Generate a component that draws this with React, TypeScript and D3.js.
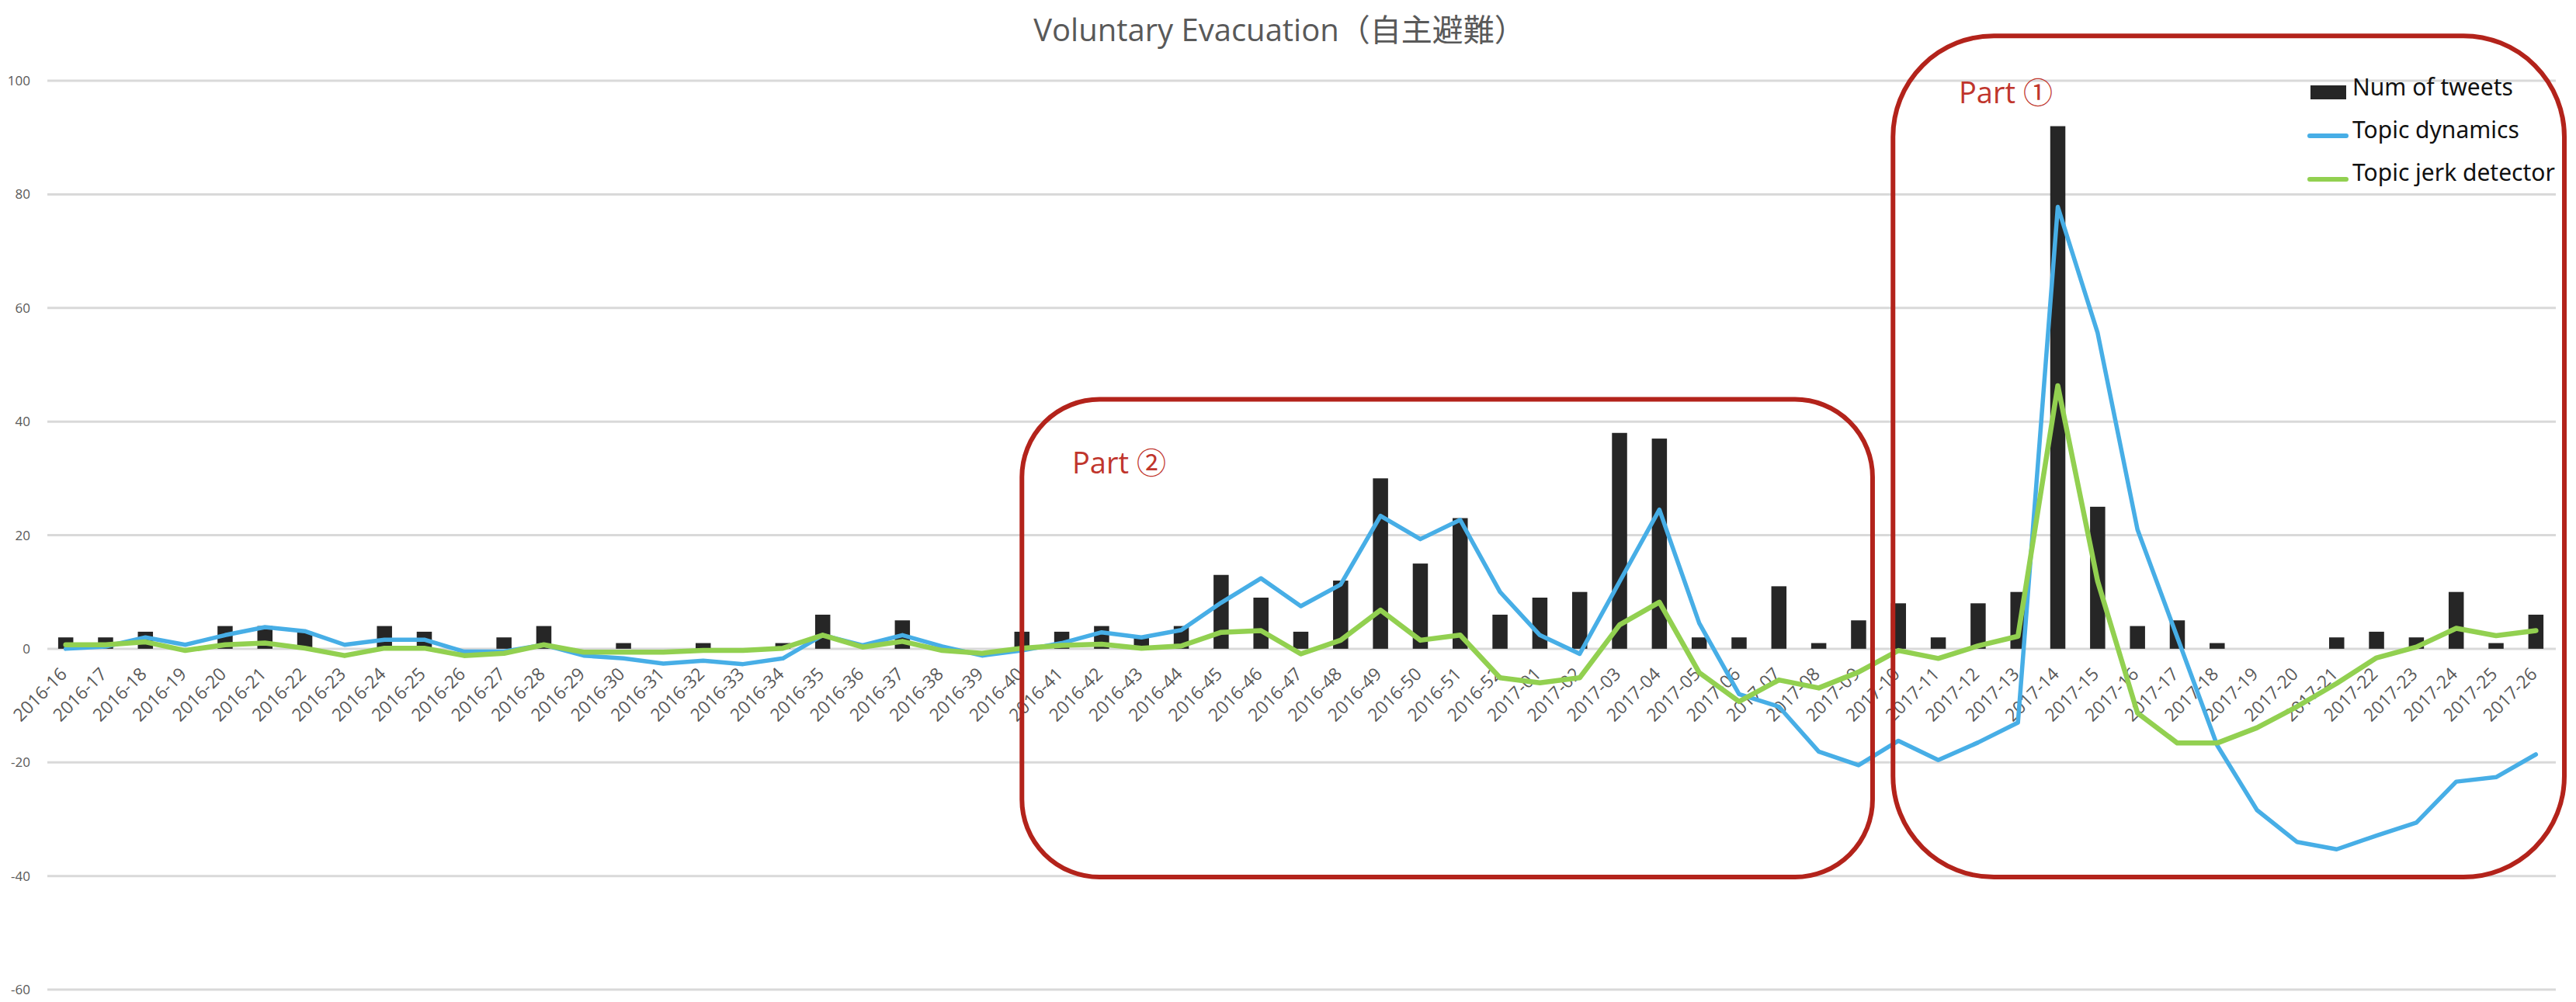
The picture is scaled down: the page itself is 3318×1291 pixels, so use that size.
import React from 'react';
import * as d3 from 'd3';

const categories: string[] = [
  '2016-16','2016-17','2016-18','2016-19','2016-20','2016-21','2016-22','2016-23','2016-24','2016-25',
  '2016-26','2016-27','2016-28','2016-29','2016-30','2016-31','2016-32','2016-33','2016-34','2016-35',
  '2016-36','2016-37','2016-38','2016-39','2016-40','2016-41','2016-42','2016-43','2016-44','2016-45',
  '2016-46','2016-47','2016-48','2016-49','2016-50','2016-51','2016-52','2017-01','2017-02','2017-03',
  '2017-04','2017-05','2017-06','2017-07','2017-08','2017-09','2017-10','2017-11','2017-12','2017-13',
  '2017-14','2017-15','2017-16','2017-17','2017-18','2017-19','2017-20','2017-21','2017-22','2017-23',
  '2017-24','2017-25','2017-26'
];

const numTweets: number[] = [
  2, 2, 3, 0, 4, 4, 3, 0, 4, 3,
  0, 2, 4, 0, 1, 0, 1, 0, 1, 6,
  0, 5, 0, 0, 3, 3, 4, 2, 4, 13,
  9, 3, 12, 30, 15, 23, 6, 9, 10, 38,
  37, 2, 2, 11, 1, 5, 8, 2, 8, 10,
  92, 25, 4, 5, 1, 0, 0, 2, 3, 2,
  10, 1, 6
];

const topicDynamics: number[] = [
  0, 0.4, 2, 0.7, 2.4, 3.8, 3.1, 0.7, 1.6, 1.6,
  -0.5, -0.5, 0.7, -1.2, -1.7, -2.6, -2.1, -2.7, -1.7, 2.4,
  0.6, 2.4, 0.4, -1.2, -0.3, 1.0, 2.9, 2.0, 3.3, 8.1,
  12.4, 7.5, 11.3, 23.4, 19.3, 22.7, 10.0, 2.4, -0.9, 11.8,
  24.5, 4.5, -8.0, -10.2, -18.1, -20.5, -16.2, -19.6, -16.5, -13.0,
  77.8, 55.6, 21.0, 2.0, -17.0, -28.4, -34.0, -35.3, -32.9, -30.6,
  -23.4, -22.6, -18.6
];

const topicJerk: number[] = [
  0.7, 0.7, 1.2, -0.3, 0.7, 1.0, 0.1, -1.2, 0.1, 0.1,
  -1.2, -0.8, 0.7, -0.6, -0.6, -0.6, -0.3, -0.3, 0.1, 2.4,
  0.3, 1.3, -0.3, -0.8, 0.1, 0.6, 0.8, 0.1, 0.5, 2.9,
  3.2, -0.9, 1.5, 6.8, 1.5, 2.4, -5.1, -6.0, -5.1, 4.2,
  8.2, -4.2, -9.3, -5.5, -6.9, -4.1, -0.3, -1.7, 0.5, 2.2,
  46.3, 11.9, -11.3, -16.6, -16.6, -13.9, -10.2, -6.1, -1.6, 0.3,
  3.6, 2.3, 3.2
];

const yTicks: number[] = [-60, -40, -20, 0, 20, 40, 60, 80, 100];

const seriesNames: string[] = ['Num of tweets', 'Topic dynamics', 'Topic jerk detector'];

const titleText = 'Voluntary Evacuation（自主避難）';

export default function App() {
  const W = 3318;
  const H = 1291;
  const plotLeft = 59;
  const plotRight = 3292;

  const x = d3.scaleBand<string>().domain(categories).range([plotLeft, plotRight]).paddingInner(0).paddingOuter(0);
  const step = x.bandwidth();
  const cx = (c: string) => (x(c) as number) + step / 2;
  const y = d3.scaleLinear().domain([-60, 100]).range([1275, 104]);
  const barW = step * 0.38;

  const lineGen = d3.line<number>()
    .x((_, i) => cx(categories[i]))
    .y((d) => y(d));

  const blue = '#47aee6';
  const green = '#92d050';
  const barColor = '#262626';
  const red = '#b3231b';
  const redText = '#c0352c';
  const gray = '#595959';
  const font = "'Open Sans', 'Noto Sans CJK JP', sans-serif";

  // annotation boxes (derived from scales)
  const box2 = {
    x0: cx('2016-40'),
    x1: cx('2017-09') + 18,
    y0: y(43.9),
    y1: y(-40.2),
    r: 100,
  };
  const box1 = {
    x0: cx('2017-10') - 7,
    x1: plotRight + 11,
    y0: y(107.9),
    y1: y(-40.2),
    r: 130,
  };

  return (
    <svg
      width={W}
      height={H}
      viewBox={`0 0 ${W} ${H}`}
      style={{ position: 'absolute', left: 0, top: 0, background: '#ffffff' }}
      fontFamily={font}
    >
      <rect x={0} y={0} width={W} height={H} fill="#ffffff" />

      {/* Title */}
      <text x={1648} y={53} textAnchor="middle" fontSize={40} fill={gray}>
        {titleText}
      </text>

      {/* Gridlines */}
      {yTicks.map((t) => (
        <g key={t}>
          <line x1={plotLeft + 2} x2={plotRight} y1={y(t)} y2={y(t)} stroke="#d9d9d9" strokeWidth={3} />
          <text x={39} y={y(t)} dy="0.36em" textAnchor="end" fontSize={17} fill={gray}>
            {t}
          </text>
        </g>
      ))}

      {/* Bars */}
      {categories.map((c, i) => (
        <rect
          key={c}
          x={cx(c) - barW / 2}
          y={Math.min(y(numTweets[i]), y(0))}
          width={barW}
          height={Math.abs(y(0) - y(numTweets[i]))}
          fill={barColor}
        />
      ))}

      {/* X labels */}
      {categories.map((c) => (
        <text
          key={'l' + c}
          transform={`translate(${cx(c) + 3},${870}) rotate(-45)`}
          textAnchor="end"
          fontSize={23}
          fill={gray}
        >
          {c}
        </text>
      ))}

      {/* Lines */}
      <path d={lineGen(topicDynamics) || ''} fill="none" stroke={blue} strokeWidth={5.5} strokeLinejoin="round" strokeLinecap="round" />
      <path d={lineGen(topicJerk) || ''} fill="none" stroke={green} strokeWidth={6.5} strokeLinejoin="round" strokeLinecap="round" />

      {/* Annotation boxes */}
      <rect x={box2.x0} y={box2.y0} width={box2.x1 - box2.x0} height={box2.y1 - box2.y0} rx={box2.r} ry={box2.r} fill="none" stroke={red} strokeWidth={6} />
      <rect x={box1.x0} y={box1.y0} width={box1.x1 - box1.x0} height={box1.y1 - box1.y0} rx={box1.r} ry={box1.r} fill="none" stroke={red} strokeWidth={6} />
      <text x={1381} y={610} fontSize={38} fill={redText}>Part ②</text>
      <text x={2523} y={133} fontSize={38} fill={redText}>Part ①</text>

      {/* Legend */}
      <g fontFamily="'Noto Sans', sans-serif" fontSize={30} fill="#111111">
        <rect x={2976} y={110} width={46} height={18} fill={barColor} />
        <text x={3030} y={123}>{seriesNames[0]}</text>
        <line x1={2975} x2={3022} y1={175} y2={175} stroke={blue} strokeWidth={6} strokeLinecap="round" />
        <text x={3030} y={178}>{seriesNames[1]}</text>
        <line x1={2975} x2={3022} y1={231} y2={231} stroke={green} strokeWidth={6} strokeLinecap="round" />
        <text x={3030} y={233}>{seriesNames[2]}</text>
      </g>
    </svg>
  );
}
